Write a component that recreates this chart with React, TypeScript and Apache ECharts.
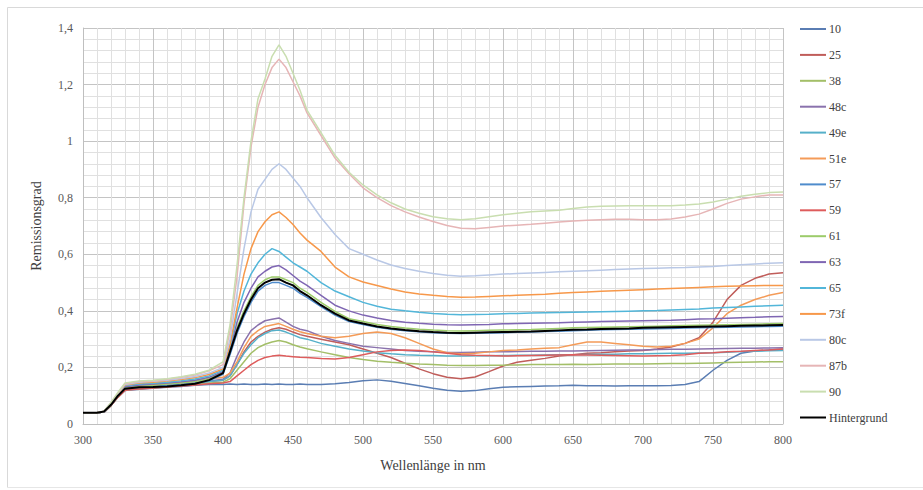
import React, { useEffect, useRef } from "react";
import * as echarts from "echarts";

const wavelengths = [300, 310, 315, 320, 325, 330, 340, 350, 360, 370, 380, 390, 400, 405, 410, 415, 420, 425, 430, 435, 440, 445, 450, 455, 460, 470, 480, 490, 500, 510, 520, 530, 540, 550, 560, 570, 580, 590, 600, 610, 620, 630, 640, 650, 660, 670, 680, 690, 700, 710, 720, 730, 740, 750, 760, 770, 780, 790, 800];

const s10 = [0.04, 0.04, 0.042, 0.065, 0.095, 0.118, 0.123, 0.126, 0.13, 0.133, 0.137, 0.14, 0.14, 0.141, 0.14, 0.141, 0.14, 0.14, 0.141, 0.14, 0.141, 0.14, 0.14, 0.141, 0.14, 0.14, 0.142, 0.147, 0.153, 0.156, 0.151, 0.143, 0.135, 0.126, 0.119, 0.116, 0.118, 0.125, 0.13, 0.132, 0.133, 0.134, 0.135, 0.137, 0.135, 0.135, 0.134, 0.135, 0.135, 0.135, 0.136, 0.14, 0.15, 0.19, 0.225, 0.25, 0.258, 0.262, 0.265];
const s25 = [0.04, 0.04, 0.042, 0.066, 0.097, 0.122, 0.128, 0.131, 0.135, 0.139, 0.144, 0.15, 0.155, 0.17, 0.21, 0.255, 0.29, 0.31, 0.325, 0.335, 0.34, 0.335, 0.325, 0.316, 0.31, 0.3, 0.29, 0.28, 0.265, 0.25, 0.235, 0.215, 0.195, 0.178, 0.165, 0.16, 0.166, 0.185, 0.205, 0.218, 0.225, 0.232, 0.24, 0.245, 0.25, 0.252, 0.255, 0.258, 0.26, 0.265, 0.272, 0.285, 0.305, 0.36, 0.44, 0.49, 0.515, 0.53, 0.535];
const s38 = [0.04, 0.04, 0.042, 0.065, 0.096, 0.12, 0.125, 0.128, 0.132, 0.136, 0.14, 0.145, 0.148, 0.16, 0.19, 0.22, 0.25, 0.27, 0.282, 0.29, 0.295, 0.29, 0.28, 0.272, 0.266, 0.255, 0.245, 0.235, 0.228, 0.222, 0.218, 0.215, 0.212, 0.21, 0.208, 0.207, 0.207, 0.208, 0.208, 0.209, 0.21, 0.21, 0.21, 0.211, 0.21, 0.211, 0.212, 0.212, 0.212, 0.213, 0.214, 0.214, 0.215, 0.216, 0.217, 0.218, 0.219, 0.22, 0.22];
const s48c = [0.04, 0.04, 0.042, 0.066, 0.098, 0.124, 0.13, 0.133, 0.137, 0.141, 0.146, 0.152, 0.158, 0.18, 0.24, 0.29, 0.33, 0.35, 0.365, 0.37, 0.375, 0.36, 0.345, 0.335, 0.33, 0.31, 0.295, 0.285, 0.275, 0.27, 0.265, 0.26, 0.257, 0.255, 0.253, 0.253, 0.254, 0.255, 0.255, 0.256, 0.257, 0.257, 0.258, 0.258, 0.259, 0.26, 0.261, 0.262, 0.262, 0.263, 0.264, 0.264, 0.265, 0.266, 0.267, 0.268, 0.268, 0.269, 0.27];
const s49e = [0.04, 0.04, 0.042, 0.066, 0.097, 0.122, 0.128, 0.131, 0.135, 0.139, 0.144, 0.15, 0.155, 0.17, 0.21, 0.25, 0.28, 0.305, 0.32, 0.33, 0.332, 0.325, 0.315, 0.305, 0.3, 0.285, 0.275, 0.265, 0.258, 0.252, 0.248, 0.245, 0.243, 0.242, 0.24, 0.24, 0.241, 0.241, 0.242, 0.243, 0.243, 0.244, 0.245, 0.245, 0.246, 0.247, 0.247, 0.248, 0.248, 0.249, 0.25, 0.25, 0.251, 0.252, 0.254, 0.256, 0.257, 0.259, 0.26];
const s51e = [0.04, 0.04, 0.043, 0.068, 0.1, 0.13, 0.136, 0.139, 0.143, 0.147, 0.152, 0.16, 0.165, 0.18, 0.22, 0.27, 0.31, 0.33, 0.345, 0.35, 0.355, 0.345, 0.335, 0.326, 0.32, 0.31, 0.305, 0.31, 0.32, 0.325, 0.32, 0.305, 0.285, 0.265, 0.252, 0.248, 0.25, 0.255, 0.26, 0.262, 0.265, 0.268, 0.27, 0.28, 0.29, 0.29, 0.285, 0.28, 0.275, 0.272, 0.275, 0.285, 0.3, 0.34, 0.39, 0.42, 0.44, 0.455, 0.465];
const s57 = [0.04, 0.04, 0.042, 0.066, 0.098, 0.123, 0.129, 0.132, 0.135, 0.139, 0.144, 0.153, 0.176, 0.245, 0.32, 0.38, 0.43, 0.47, 0.49, 0.5, 0.5, 0.49, 0.48, 0.462, 0.448, 0.415, 0.385, 0.362, 0.352, 0.342, 0.335, 0.33, 0.326, 0.323, 0.321, 0.32, 0.321, 0.322, 0.323, 0.324, 0.325, 0.327, 0.328, 0.33, 0.331, 0.333, 0.334, 0.335, 0.336, 0.337, 0.338, 0.339, 0.34, 0.341, 0.342, 0.343, 0.344, 0.345, 0.346];
const s59 = [0.04, 0.04, 0.042, 0.065, 0.095, 0.119, 0.124, 0.127, 0.131, 0.134, 0.138, 0.142, 0.145, 0.15, 0.17, 0.19, 0.21, 0.225, 0.235, 0.24, 0.243, 0.24, 0.238, 0.236, 0.235, 0.232, 0.23, 0.235, 0.245, 0.255, 0.26, 0.262, 0.26, 0.255, 0.25, 0.245, 0.243, 0.242, 0.24, 0.241, 0.242, 0.243, 0.244, 0.245, 0.244, 0.243, 0.242, 0.241, 0.24, 0.241, 0.242, 0.245, 0.25, 0.252, 0.255, 0.257, 0.26, 0.262, 0.265];
const s61 = [0.04, 0.04, 0.043, 0.068, 0.1, 0.128, 0.134, 0.137, 0.141, 0.145, 0.15, 0.16, 0.185, 0.26, 0.34, 0.4, 0.45, 0.49, 0.51, 0.52, 0.52, 0.51, 0.5, 0.48, 0.465, 0.43, 0.398, 0.372, 0.362, 0.352, 0.345, 0.339, 0.335, 0.332, 0.33, 0.329, 0.33, 0.331, 0.332, 0.333, 0.334, 0.336, 0.338, 0.34, 0.341, 0.342, 0.343, 0.344, 0.345, 0.346, 0.347, 0.348, 0.349, 0.35, 0.351, 0.352, 0.353, 0.354, 0.355];
const s63 = [0.04, 0.04, 0.043, 0.069, 0.102, 0.132, 0.138, 0.141, 0.145, 0.149, 0.155, 0.165, 0.185, 0.26, 0.36, 0.43, 0.48, 0.52, 0.54, 0.555, 0.56, 0.545, 0.525, 0.505, 0.49, 0.455, 0.42, 0.4, 0.385, 0.375, 0.366, 0.36, 0.356, 0.353, 0.351, 0.35, 0.351, 0.352, 0.354, 0.355, 0.356, 0.357, 0.358, 0.36, 0.361, 0.362, 0.363, 0.364, 0.365, 0.366, 0.367, 0.369, 0.371, 0.372, 0.374, 0.376, 0.377, 0.379, 0.38];
const s65 = [0.04, 0.04, 0.043, 0.07, 0.104, 0.135, 0.141, 0.144, 0.148, 0.153, 0.159, 0.17, 0.19, 0.27, 0.39, 0.47, 0.53, 0.57, 0.6, 0.62, 0.61, 0.59, 0.57, 0.555, 0.54, 0.5, 0.47, 0.45, 0.43, 0.416, 0.406, 0.4, 0.395, 0.391, 0.388, 0.386, 0.387, 0.388, 0.39, 0.391, 0.392, 0.393, 0.394, 0.395, 0.396, 0.397, 0.398, 0.399, 0.4, 0.401, 0.403, 0.405, 0.407, 0.41, 0.412, 0.414, 0.416, 0.418, 0.42];
const s73f = [0.04, 0.04, 0.044, 0.072, 0.106, 0.138, 0.145, 0.148, 0.152, 0.157, 0.164, 0.175, 0.195, 0.28, 0.41, 0.53, 0.62, 0.68, 0.715, 0.74, 0.75, 0.73, 0.705, 0.675, 0.65, 0.61, 0.555, 0.52, 0.502, 0.49, 0.477, 0.467, 0.46, 0.455, 0.451, 0.448, 0.449, 0.451, 0.453, 0.455, 0.457, 0.459, 0.462, 0.465, 0.467, 0.469, 0.471, 0.473, 0.475, 0.477, 0.479, 0.481, 0.483, 0.485, 0.487, 0.488, 0.489, 0.49, 0.49];
const s80c = [0.04, 0.04, 0.044, 0.073, 0.108, 0.14, 0.148, 0.151, 0.155, 0.161, 0.168, 0.18, 0.2, 0.3, 0.46, 0.62, 0.75, 0.83, 0.865, 0.9, 0.92, 0.9, 0.87, 0.84, 0.8, 0.73, 0.67, 0.62, 0.6, 0.58, 0.562, 0.55, 0.54, 0.532, 0.526, 0.522, 0.524, 0.527, 0.53, 0.532, 0.534, 0.536, 0.538, 0.54, 0.542, 0.544, 0.546, 0.548, 0.55, 0.551, 0.552, 0.553, 0.555, 0.557, 0.56, 0.563, 0.566, 0.568, 0.57];
const s87b = [0.04, 0.04, 0.045, 0.075, 0.11, 0.142, 0.15, 0.153, 0.158, 0.165, 0.173, 0.188, 0.21, 0.33, 0.52, 0.78, 0.98, 1.12, 1.2, 1.26, 1.29, 1.26, 1.21, 1.16, 1.1, 1.02, 0.94, 0.885, 0.835, 0.8, 0.772, 0.75, 0.732, 0.716, 0.702, 0.692, 0.69, 0.695, 0.7, 0.703, 0.706, 0.71, 0.714, 0.718, 0.72, 0.722, 0.724, 0.724, 0.722, 0.722, 0.725, 0.732, 0.742, 0.76, 0.78, 0.795, 0.803, 0.81, 0.81];
const s90 = [0.04, 0.04, 0.045, 0.076, 0.112, 0.145, 0.152, 0.155, 0.16, 0.167, 0.176, 0.19, 0.22, 0.35, 0.56, 0.8, 1.0, 1.15, 1.22, 1.3, 1.34, 1.3, 1.24, 1.18, 1.11, 1.03, 0.95, 0.89, 0.845, 0.81, 0.782, 0.76, 0.745, 0.733, 0.726, 0.722, 0.726, 0.733, 0.74, 0.745, 0.75, 0.753, 0.756, 0.762, 0.767, 0.77, 0.771, 0.772, 0.772, 0.772, 0.772, 0.774, 0.778, 0.785, 0.795, 0.805, 0.812, 0.818, 0.82];
const sHintergrund = [0.04, 0.04, 0.044, 0.068, 0.1, 0.125, 0.13, 0.131, 0.133, 0.137, 0.142, 0.155, 0.18, 0.255, 0.33, 0.39, 0.44, 0.48, 0.5, 0.51, 0.512, 0.5, 0.49, 0.47, 0.455, 0.42, 0.39, 0.366, 0.355, 0.345, 0.338, 0.332, 0.328, 0.325, 0.323, 0.322, 0.323, 0.324, 0.325, 0.326, 0.327, 0.329, 0.331, 0.333, 0.334, 0.336, 0.337, 0.338, 0.34, 0.341, 0.342, 0.343, 0.344, 0.345, 0.346, 0.347, 0.348, 0.349, 0.35];

const seriesNames = ["10", "25", "38", "48c", "49e", "51e", "57", "59", "61", "63", "65", "73f", "80c", "87b", "90", "Hintergrund"];
const seriesValues = [s10, s25, s38, s48c, s49e, s51e, s57, s59, s61, s63, s65, s73f, s80c, s87b, s90, sHintergrund];
const seriesColors = ["#5a7db3", "#c05d5a", "#a3bf68", "#8a72ad", "#56b0c9", "#f49b58", "#4f8ccc", "#de5c5c", "#9ccb6a", "#7f66b3", "#52b6d9", "#f7984a", "#b9c8e6", "#e6b5b6", "#c9deb0", "#000000"];

const xTicks = [300, 350, 400, 450, 500, 550, 600, 650, 700, 750, 800];

export default function App() {
  const ref = useRef<HTMLDivElement>(null);
  useEffect(() => {
    if (!ref.current) return;
    const chart = echarts.init(ref.current, undefined, { renderer: "svg" });
    const font = "Liberation Serif";
    const series = seriesNames.map((name, i) => ({
      name,
      type: "line" as const,
      data: wavelengths.map((w, j) => [w, seriesValues[i][j]]),
      symbol: "none",
      smooth: false,
      lineStyle: { width: name === "Hintergrund" ? 2 : 1.5, color: seriesColors[i] },
      itemStyle: { color: seriesColors[i] },
      z: 2 + i,
    }));
    chart.setOption({
      animation: false,
      backgroundColor: "#ffffff",
      textStyle: { fontFamily: font },
      grid: { left: 83, right: 140, top: 28, bottom: 66, containLabel: false },
      legend: {
        orient: "vertical",
        left: 795,
        top: 18,
        itemWidth: 26,
        itemHeight: 14,
        itemGap: 13.9,
        icon: "path://M0,6 L26,6 L26,8 L0,8 Z",
        textStyle: { fontFamily: font, fontSize: 12, color: "#404040", padding: [0, 0, 0, -2] },
        data: seriesNames,
      },
      xAxis: {
        type: "value",
        min: 300,
        max: 800,
        interval: 50,
        name: "Wellenlänge in nm",
        nameLocation: "middle",
        nameGap: 34,
        nameTextStyle: { fontFamily: font, fontSize: 14, color: "#404040" },
        axisLine: { show: true, lineStyle: { color: "#bfbfbf" } },
        axisTick: { show: false },
        axisLabel: { fontFamily: font, fontSize: 12, color: "#595959", margin: 10, formatter: (v: number) => (xTicks.includes(v) ? String(v) : "") },
        splitLine: { show: true, lineStyle: { color: "#c4c4c4", width: 1 } },
        minorTick: { show: false, splitNumber: 5 },
        minorSplitLine: { show: true, lineStyle: { color: "#e0e0e0", width: 1 } },
      },
      yAxis: {
        type: "value",
        min: 0,
        max: 1.4,
        interval: 0.2,
        name: "Remissionsgrad",
        nameLocation: "middle",
        nameGap: 40,
        nameTextStyle: { fontFamily: font, fontSize: 14, color: "#404040" },
        axisLine: { show: true, lineStyle: { color: "#bfbfbf" } },
        axisTick: { show: false },
        axisLabel: {
          fontFamily: font,
          fontSize: 12,
          color: "#595959",
          margin: 10,
          formatter: (v: number) => String(Math.round(v * 10) / 10).replace(".", ","),
        },
        splitLine: { show: true, lineStyle: { color: "#c4c4c4", width: 1 } },
        minorTick: { show: false, splitNumber: 5 },
        minorSplitLine: { show: true, lineStyle: { color: "#e0e0e0", width: 1 } },
      },
      graphic: [
        { type: "line", shape: { x1: 7.5, y1: 7.5, x2: 923, y2: 7.5 }, style: { stroke: "#d9d9d9", lineWidth: 1 }, silent: true },
        { type: "line", shape: { x1: 7.5, y1: 7.5, x2: 7.5, y2: 487.5 }, style: { stroke: "#d9d9d9", lineWidth: 1 }, silent: true },
        { type: "line", shape: { x1: 7.5, y1: 487.5, x2: 923, y2: 487.5 }, style: { stroke: "#e6e6e6", lineWidth: 1 }, silent: true },
        { type: "line", shape: { x1: 783.5, y1: 28, x2: 783.5, y2: 424 }, style: { stroke: "#c4c4c4", lineWidth: 1 }, silent: true },
      ],
      series,
    });
    return () => chart.dispose();
  }, []);
  return <div ref={ref} style={{ position: "fixed", left: 0, top: 0, width: 923, height: 490 }} />;
}
